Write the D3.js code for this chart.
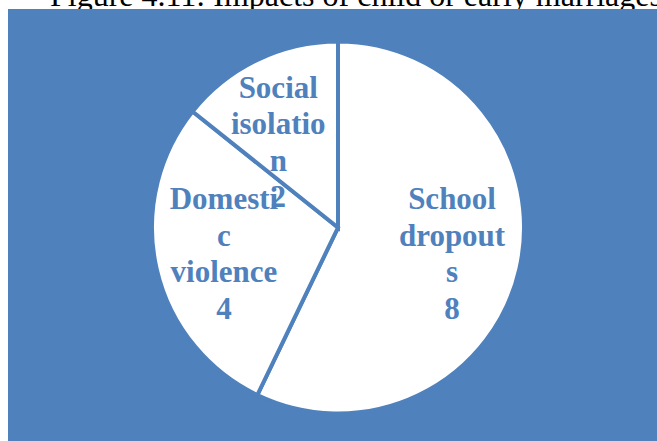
<!DOCTYPE html>
<html>
<head>
<meta charset="utf-8">
<script src="https://cdn.jsdelivr.net/npm/d3@7/dist/d3.min.js"></script>
<style>
  html, body { margin: 0; padding: 0; background: #ffffff; }
  svg { display: block; }
</style>
</head>
<body>
<svg id="chart" width="657" height="441"></svg>
<script>
// Impacts of child or early marriages (counts)
const categories = ["School dropouts", "Domestic violence", "Social isolation"];
const values = [8, 4, 2];
// Label text as it wraps inside each slice
const labelLines = [
  ["School", "dropout", "s"],
  ["Domesti", "c", "violence"],
  ["Social", "isolatio", "n"]
];
const titleText = "Figure 4.11: Impacts of child or early marriages";

const W = 657, H = 441;
const blue = "#4F81BD";
const svg = d3.select("#chart");

// Caption (partly hidden under the chart panel)
svg.append("text")
  .attr("x", 50).attr("y", 6)
  .attr("font-family", "'Liberation Serif', 'Times New Roman', serif")
  .attr("font-size", 32)
  .attr("fill", "#000")
  .text(titleText);

// Chart panel
svg.append("rect")
  .attr("x", 8).attr("y", 9)
  .attr("width", W - 8).attr("height", H - 9)
  .attr("fill", blue);

const cx = 338, cy = 227.5, R = 186;
const g = svg.append("g").attr("transform", `translate(${cx},${cy})`);

const data = categories.map((c, i) => ({ category: c, value: values[i], lines: labelLines[i] }));

const pie = d3.pie().value(d => d.value).sort(null);
const arcs = pie(data);
const arc = d3.arc().innerRadius(0).outerRadius(R);
const labelArc = d3.arc().innerRadius(117).outerRadius(117);

g.selectAll("path.slice")
  .data(arcs)
  .enter().append("path")
  .attr("class", "slice")
  .attr("d", arc)
  .attr("fill", "#ffffff")
  .attr("stroke", blue)
  .attr("stroke-width", 4)
  .attr("stroke-linejoin", "miter");

// Small nudges so the wrapped labels sit inside their slices
const nudge = {
  "School dropouts": [0, 0],
  "Domestic violence": [0, 0],
  "Social isolation": [-9, 20]
};

const fontSize = 31, lineH = 36.5;
arcs.forEach(a => {
  const [lx, ly] = labelArc.centroid(a);
  const [nx, ny] = nudge[a.data.category];
  const lines = a.data.lines.concat([String(a.data.value)]);
  const blockH = (lines.length - 1) * lineH;
  const t = g.append("text")
    .attr("text-anchor", "middle")
    .attr("font-family", "'Liberation Serif', 'Times New Roman', serif")
    .attr("font-weight", "bold")
    .attr("font-size", fontSize)
    .attr("fill", blue);
  lines.forEach((ln, i) => {
    t.append("tspan")
      .attr("x", lx + nx)
      .attr("y", ly + ny - blockH / 2 + i * lineH + fontSize * 0.33)
      .text(ln);
  });
});
</script>
</body>
</html>
